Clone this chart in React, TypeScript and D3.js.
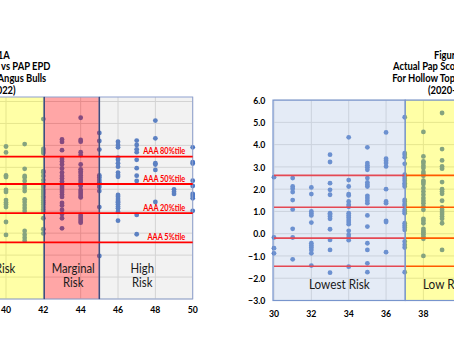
import React from 'react';
import * as d3 from 'd3';

// ---------- data ----------
const leftScores = [40, 41, 42, 43, 44, 45, 46, 47, 48, 49, 50];
const leftEpds: number[][] = [
  [3.95, 3.68, 2.63, 2.56, 1.97, 1.88, 1.51, 1.40, 1.31, 1.19, 0.51, -0.08],
  [4.06, 2.93, 2.61, 2.54, 2.38, 2.20, 2.06, 1.92, 1.54, 1.42, 1.28, 1.15, 1.01, 0.10, -0.07, -0.21, -0.34],
  [5.20, 3.84, 3.75, 3.65, 2.83, 2.77, 2.61, 2.42, 2.26, 2.20, 2.10, 1.97, 1.88, 1.79, 1.67, 1.60, 1.49, 1.40, 1.31, 1.19, 1.08, 0.97, 0.68, 0.18, -0.01],
  [4.27, 4.16, 3.78, 3.38, 3.27, 3.13, 2.95, 2.77, 2.61, 2.49, 2.36, 2.24, 2.15, 2.06, 1.97, 1.88, 1.76, 1.65, 1.38, 1.26, 1.06, 0.87, 0.68, 0.22],
  [5.26, 4.25, 4.17, 3.69, 3.56, 3.13, 2.91, 2.81, 2.74, 2.63, 2.52, 2.42, 2.33, 2.22, 2.15, 1.97, 1.88, 1.79, 1.69, 1.63, 0.83, 0.74, 0.65, 0.56, 0.48],
  [4.57, 4.20, 3.81, 2.63, 2.54, 2.42, 2.31, 2.22, 2.10, 1.92, 1.19, -1.04],
  [4.17, 4.02, 3.91, 3.44, 3.34, 3.19, 3.03, 2.76, 2.65, 2.57, 1.74, 1.66, 1.56, 1.47, 1.41, 1.32, 1.21, 1.13, 0.98, 0.57],
  [4.22, 4.02, 3.82, 3.69, 3.34, 2.96, 2.62, 2.38, 0.83, -0.05],
  [5.13, 4.32, 3.19, 3.13, 2.88, 1.42],
  [2.00, 1.89, 1.79],
  [3.91, 3.24, 3.17, 2.39, 2.15, 1.79, 1.69, 1.59, 1.02],
];

const rightScores = [30, 31, 32, 33, 34, 35, 36, 37, 38, 39];
const rightEpds: number[][] = [
  [2.54, -0.17, -0.65, -0.88],
  [2.50, 2.12, 2.02, 1.87, 1.51, 1.09, 0.22, -0.17, -1.15],
  [2.08, 1.78, 1.00, 0.91, 0.82, 0.50, -0.43, -0.53, -0.62, -0.73, -0.88, -1.43],
  [3.55, 3.22, 2.27, 1.97, 1.75, 0.92, 0.85, 0.77, 0.67, 0.20, -0.28, -0.73, -1.75],
  [4.33, 2.41, 2.12, 1.78, 1.72, 1.45, 1.30, 1.21, 0.92, 0.82, 0.73, 0.62, 0.52, 0.43, 0.13, -0.05, -0.17, -0.29, -1.48],
  [3.88, 3.17, 3.07, 2.98, 2.87, 2.50, 2.30, 2.20, 2.12, 1.70, 1.60, 1.48, 1.37, 0.82, 0.32, -0.43, -0.73, -1.33, -1.73],
  [4.55, 3.37, 3.28, 3.17, 3.02, 2.00, 1.45, 1.37, 0.58, 0.52, -0.83],
  [5.23, 3.62, 3.55, 3.43, 3.14, 2.65, 2.57, 2.47, 2.38, 2.27, 2.20, 2.12, 1.52, 1.45, 1.33, 1.27, 1.07, 1.00, 0.92, 0.47, 0.37, 0.28, 0.17, -0.35, -0.50, -0.62, -1.73],
  [4.57, 3.47, 3.25, 3.17, 3.05, 2.95, 2.77, 2.68, 2.60, 2.38, 2.32, 2.23, 2.05, 1.90, 1.75, 1.60, 1.48, 1.37, 1.22, 1.07, 0.67, 0.58, 0.47, 0.22, 0.13, 0.07, -0.02, -0.13, -0.23, -1.00],
  [5.42, 3.80, 3.29, 3.02, 2.92, 2.32, 2.00, 1.90, 1.79, 1.48, 1.18, 1.07, 0.97, 0.88, 0.77, 0.67, 0.47, -0.73],
];

const leftPctValues = [3.49, 2.24, 0.91, -0.42];
const leftPctLabels = ['AAA 80%tile', 'AAA 50%tile', 'AAA 20%tile', 'AAA 5%tile'];
const rightPctValues = [2.62, 1.19, -0.2, -1.46];

const leftZoneBreaks = [30, 42.05, 45, 50];
const leftZoneNames = [['Low Risk'], ['Marginal', 'Risk'], ['High', 'Risk']];
const leftZoneLabelAt = [40.5, 43.6, 47.3];
const rightZoneBreaks = [30, 37.08, 44];
const rightZoneNames = [['Lowest Risk'], ['Low Risk']];
const rightZoneLabelAt = [33.5, 37.98];

const yTickValues = [-3, -2, -1, 0, 1, 2, 3, 4, 5, 6];
const leftXTicks = [36, 38, 40, 42, 44, 46, 48, 50];
const rightXTicks = [30, 32, 34, 36, 38, 40];
const leftTitle = ['Figure 1A', 'Actual Pap Score vs PAP EPD', 'For Hollow Top Angus Bulls', '(2020-2022)'];
const rightTitle = ['Figure 1B', 'Actual Pap Score vs PAP EPD', 'For Hollow Top Angus Heifers', '(2020-2022)'];

// ---------- layout ----------
const W = 454;
const H = 341;
const FONT = 'Lato, "Noto Sans", sans-serif';
const SX = 0.87;

const xL = d3.scaleLinear().domain([40, 50]).range([6, 192.7]);
const yL = d3.scaleLinear().domain([-3, 6]).range([299, 101.5]);
const xR = d3.scaleLinear().domain([30, 38]).range([274, 423.4]);
const yR = d3.scaleLinear().domain([-3, 6]).range([300.5, 100.1]);
const fmt = d3.format('.1f');

type TP = { x: number; y: number; anchor?: string; size: number; weight?: number; fill?: string; children: React.ReactNode };
function Txt({ x, y, anchor = 'start', size, weight = 400, fill = '#000', children }: TP) {
  return (
    <text
      transform={`translate(${x},${y}) scale(${SX},1)`}
      textAnchor={anchor as any}
      fontSize={size}
      fontWeight={weight}
      fill={fill}
      fontFamily={FONT}
    >
      {children}
    </text>
  );
}

const DOT = '#4472C4';
const GRID = '#D9D9D9';

function LeftChart() {
  const x0 = xL(30);
  const x1 = xL(50);
  const top = yL(6) - 4.5;
  const bottom = yL(-3);
  const fills = ['#FFFF00', '#FF0000', '#BFBFBF'];
  const opac = [0.35, 0.35, 0.2];
  return (
    <g>
      {yTickValues.map((v) => (
        <line key={'h' + v} x1={x0} x2={x1} y1={yL(v)} y2={yL(v)} stroke={GRID} strokeWidth={1} />
      ))}
      {d3.range(30, 51, 2).map((v) => (
        <line key={'v' + v} x1={xL(v)} x2={xL(v)} y1={top} y2={bottom} stroke={GRID} strokeWidth={1} />
      ))}
      {leftScores.map((s, i) =>
        leftEpds[i].map((v, j) => <circle key={s + '-' + j} cx={xL(s)} cy={yL(v)} r={2.4} fill={DOT} />)
      )}
      {leftZoneBreaks.slice(0, -1).map((b, i) => (
        <rect
          key={'z' + i}
          x={xL(b)}
          y={top}
          width={xL(leftZoneBreaks[i + 1]) - xL(b)}
          height={bottom - top}
          fill={fills[i]}
          fillOpacity={opac[i]}
          stroke="#8FA2CF"
          strokeWidth={1}
        />
      ))}
      {leftZoneBreaks.slice(1, -1).map((b, i) => (
        <line key={'s' + i} x1={xL(b)} x2={xL(b)} y1={top} y2={bottom} stroke="#3F4E7E" strokeWidth={1.5} />
      ))}
      {leftPctValues.map((v, i) => (
        <g key={'p' + i}>
          <line x1={x0} x2={x1} y1={yL(v)} y2={yL(v)} stroke="#FF0000" strokeWidth={1.8} />
          <Txt x={xL(49.6)} y={yL(v) - 2.2} anchor="end" size={8.5} weight={700} fill="#FF0000">
            {leftPctLabels[i]}
          </Txt>
        </g>
      ))}
      {leftZoneNames.map((lines, i) =>
        lines.map((t, k) => (
          <Txt
            key={'n' + i + k}
            x={xL(leftZoneLabelAt[i])}
            y={272.5 + k * 14.3}
            anchor={i === 0 ? 'end' : 'middle'}
            size={13}
            fill="#1a1a1a"
          >
            {t}
          </Txt>
        ))
      )}
      {leftXTicks.map((t) => (
        <Txt key={'xt' + t} x={xL(t)} y={312.7} anchor="middle" size={10} weight={700}>
          {String(t)}
        </Txt>
      ))}
      {leftTitle.map((t, i) => (
        <Txt key={'lt' + i} x={-10.5} y={58.5 + i * 11.7} anchor="middle" size={10.8} weight={700}>
          {t}
        </Txt>
      ))}
    </g>
  );
}

function RightChart() {
  const x0 = xR(30);
  const x1 = xR(44);
  const top = yR(6);
  const bottom = yR(-3);
  const fills = ['#B4C7E7', '#FFFF00'];
  const opac = [0.36, 0.35];
  return (
    <g>
      {yTickValues.map((v) => (
        <line key={'h' + v} x1={x0} x2={x1} y1={yR(v)} y2={yR(v)} stroke={GRID} strokeWidth={1} />
      ))}
      {d3.range(30, 45, 2).map((v) => (
        <line key={'v' + v} x1={xR(v)} x2={xR(v)} y1={top} y2={bottom} stroke={GRID} strokeWidth={1} />
      ))}
      {rightScores.map((s, i) =>
        rightEpds[i].map((v, j) => <circle key={s + '-' + j} cx={xR(s)} cy={yR(v)} r={2.4} fill={DOT} />)
      )}
      {rightPctValues.map((v, i) => (
        <line key={'p' + i} x1={x0} x2={x1} y1={yR(v)} y2={yR(v)} stroke="#FF0000" strokeWidth={1.6} />
      ))}
      {rightZoneBreaks.slice(0, -1).map((b, i) => (
        <rect
          key={'z' + i}
          x={xR(b) - 1}
          y={top}
          width={xR(rightZoneBreaks[i + 1]) - xR(b)}
          height={bottom - top}
          fill={fills[i]}
          fillOpacity={opac[i]}
          stroke="#7895CD"
          strokeWidth={1.2}
        />
      ))}
      {rightZoneNames.map((lines, i) =>
        lines.map((t, k) => (
          <Txt
            key={'n' + i + k}
            x={xR(rightZoneLabelAt[i])}
            y={288.5 + k * 14}
            anchor={i === 0 ? 'middle' : 'start'}
            size={13.5}
            fill="#1a1a1a"
          >
            {t}
          </Txt>
        ))
      )}
      {rightXTicks.map((t) => (
        <Txt key={'xt' + t} x={xR(t)} y={316.7} anchor="middle" size={10} weight={700}>
          {String(t)}
        </Txt>
      ))}
      {yTickValues.map((v) => (
        <Txt key={'yt' + v} x={265.3} y={yR(v) + 3.6} anchor="end" size={10} weight={700}>
          {fmt(v)}
        </Txt>
      ))}
      {rightTitle.map((t, i) => (
        <Txt key={'rt' + i} x={454} y={58.5 + i * 11.7} anchor="middle" size={10.8} weight={700}>
          {t}
        </Txt>
      ))}
    </g>
  );
}

export default function App() {
  return (
    <svg
      width={W}
      height={H}
      viewBox={`0 0 ${W} ${H}`}
      style={{ position: 'absolute', left: 0, top: 0, display: 'block', background: '#fff' }}
    >
      <rect x={0} y={0} width={W} height={H} fill="#fff" />
      <LeftChart />
      <RightChart />
    </svg>
  );
}
